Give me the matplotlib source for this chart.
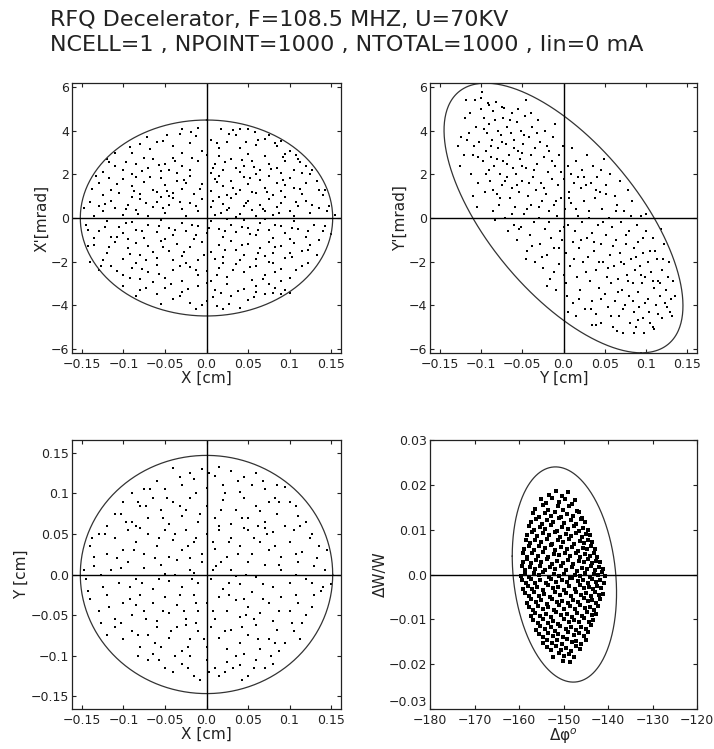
import numpy as np
import matplotlib
matplotlib.use("Agg")
import matplotlib.pyplot as plt

plt.rcParams['font.family'] = ['DejaVu Sans']

TITLE1 = "RFQ Decelerator, F=108.5 MHZ, U=70KV"
TITLE2 = "NCELL=1 , NPOINT=1000 , NTOTAL=1000 , Iin=0 mA"

# ---------------- panel 1: X - X' ----------------
p1_a = [(-0.029,4.1),(-0.019,3.95),(-0.01,4.15),(0.018,4.1),(0.032,4.05),(0.04,4.1),(0.05,4.1),(0.058,3.95),(0.036,3.8),(0.07,3.65),(0.09,3.55),(0.075,3.8),(-0.072,3.7),(-0.048,3.8),(-0.06,3.5),(-0.08,3.4),(-0.04,3.3),(-0.02,3.45),(-0.005,3.1),(0.015,3.2),(0.04,3.2),(0.06,3.35),(0.085,3.3),(0.1,3.1),(0.095,2.95),(0.05,2.95),(-0.11,3.0),(-0.09,3.0),(-0.03,3.0),(0.005,3.6),(0.025,3.5),(0.11,2.7),
(-0.12,2.7),(-0.11,2.4),(-0.125,2.1),(-0.1,2.2),(-0.085,2.5),(-0.07,2.3),(-0.065,2.7),(-0.05,2.5),(-0.04,2.75),(-0.03,2.4),(-0.02,2.2),(-0.01,2.6),(0.0,2.9),(0.01,2.5),(0.02,2.2),(0.03,2.7),(0.045,2.4),(0.055,2.6),(0.065,2.2),(0.075,2.5),(0.085,2.3),(0.095,2.6),(0.105,2.2),(0.12,2.4),(0.125,2.0),(0.115,2.05),(0.09,2.05),(0.06,2.0),(0.04,2.1),(0.005,2.05),(-0.035,2.05),(-0.055,2.15),(-0.09,2.0),(-0.075,2.75),(0.015,2.85),(0.07,2.85),(-0.045,2.2),(0.035,2.3),
(-0.13,1.6),(-0.115,1.3),(-0.1,1.8),(-0.09,1.45),(-0.08,1.1),(-0.075,1.65),(-0.065,1.3),(-0.055,1.85),(-0.05,1.5),(-0.04,1.15),(-0.035,1.7),(-0.03,1.35),(-0.02,1.95),(-0.015,1.1),(-0.005,1.55),(0.005,1.25),(0.01,1.8),(0.02,1.45),(0.025,1.05),(0.03,1.7),(0.04,1.3),(0.045,1.9),(0.05,1.55),(0.06,1.15),(0.065,1.75),(0.07,1.4),(0.08,1.05),(0.085,1.6),(0.09,1.25),(0.1,1.85),(0.105,1.4),(0.115,1.1),(0.12,1.6),(0.135,1.3),(0.14,1.05),(-0.125,1.05),(-0.105,1.15),(-0.045,1.0),(0.015,1.95),(0.055,1.2),(0.095,1.5),(-0.06,1.2),(0.035,1.1),(-0.025,1.6),(0.075,1.95),(-0.085,1.9),
(-0.14,0.75),(-0.13,0.55),(-0.125,0.3),(-0.115,0.8),(-0.11,0.45),(-0.1,0.15),(-0.095,0.6),(-0.085,0.35),(-0.08,0.85),(-0.07,0.1),(-0.065,0.5),(-0.06,0.75),(-0.05,0.25),(-0.045,0.6),(-0.04,0.9),(-0.03,0.4),(-0.025,0.1),(-0.02,0.7),(-0.01,0.3),(-0.005,0.85),(0.005,0.5),(0.01,0.15),(0.02,0.65),(0.025,0.35),(0.03,0.9),(0.04,0.2),(0.045,0.55),(0.05,0.8),(0.055,0.35),(0.06,0.1),(0.065,0.6),(0.07,0.3),(0.075,0.85),(0.08,0.15),(0.085,0.5),(0.09,0.7),(0.1,0.3),(0.105,0.1),(0.11,0.55),(0.12,0.8),(0.125,0.25),(0.135,0.45),(0.145,0.3),(0.155,0.15),(-0.135,0.1),(0.035,0.05),(-0.055,0.95),(0.015,0.95),(0.095,0.95),(-0.09,0.95),
(-0.145,-0.3),(-0.13,-0.6),(-0.12,-0.15),(-0.115,-0.85),(-0.105,-0.4),(-0.1,-0.7),(-0.09,-0.2),(-0.085,-0.55),(-0.075,-0.9),(-0.07,-0.3),(-0.06,-0.65),(-0.055,-0.1),(-0.045,-0.45),(-0.04,-0.8),(-0.03,-0.25),(-0.025,-0.6),(-0.015,-0.95),(-0.01,-0.35),(0.0,-0.7),(0.005,-0.15),(0.015,-0.5),(0.02,-0.85),(0.03,-0.3),(0.035,-0.65),(0.045,-0.1),(0.05,-0.45),(0.06,-0.8),(0.065,-0.25),(0.075,-0.55),(0.08,-0.9),(0.09,-0.35),(0.095,-0.7),(0.105,-0.15),(0.11,-0.5),(0.12,-0.85),(0.13,-0.3),(0.14,-0.6),(0.15,-0.75),(-0.135,-0.9),(0.025,-0.05),(-0.05,-0.95),(0.07,-0.05),(-0.095,-0.95),(0.1,-0.95),
(-0.135,-1.25),(-0.12,-1.6),(-0.11,-1.1),(-0.1,-1.9),(-0.095,-1.4),(-0.085,-1.15),(-0.08,-1.7),(-0.07,-1.3),(-0.06,-1.85),(-0.055,-1.05),(-0.045,-1.5),(-0.035,-1.2),(-0.03,-1.75),(-0.02,-1.35),(-0.01,-1.95),(-0.005,-1.1),(0.005,-1.55),(0.015,-1.25),(0.02,-1.8),(0.03,-1.05),(0.035,-1.45),(0.045,-1.7),(0.05,-1.2),(0.06,-1.9),(0.065,-1.4),(0.075,-1.1),(0.08,-1.6),(0.09,-1.3),(0.095,-1.85),(0.105,-1.15),(0.115,-1.5),(0.125,-1.25),(0.135,-1.0),(-0.125,-1.95),(0.1,-1.6),(-0.065,-1.55),(0.04,-1.95),(0.07,-1.75),(-0.04,-1.95),(0.01,-1.9),
(-0.14,-2.0),(-0.13,-2.4),(-0.115,-2.2),(-0.1,-2.6),(-0.09,-2.3),(-0.08,-2.8),(-0.07,-2.5),(-0.06,-2.15),(-0.05,-2.75),(-0.04,-2.4),(-0.03,-2.9),(-0.02,-2.25),(-0.01,-2.6),(0.0,-2.45),(0.005,-2.9),(0.015,-2.3),(0.025,-2.7),(0.035,-2.1),(0.045,-2.5),(0.055,-2.85),(0.06,-2.2),(0.07,-2.6),(0.08,-2.05),(0.09,-2.35),(0.1,-2.75),(0.115,-2.2),(0.075,-2.0),(-0.085,-2.05),(0.02,-2.05),(-0.025,-2.05),(0.09,-2.9),(-0.065,-2.95),
(-0.1,-3.1),(-0.08,-3.3),(-0.06,-3.5),(-0.05,-3.2),(-0.04,-3.7),(-0.03,-3.4),(-0.02,-3.9),(-0.01,-3.1),(0.0,-3.0),(0.0,-3.8),(0.01,-3.3),(0.02,-4.2),(0.03,-3.6),(0.04,-4.15),(0.045,-3.25),(0.05,-3.75),(0.06,-3.4),(0.07,-3.5),(0.08,-3.45),(0.09,-3.5),(0.095,-3.3),(0.075,-3.05),(-0.085,-3.6),(-0.005,-4.0),(0.025,-3.05),(-0.055,-3.95),(0.06,-3.1),(0.1,-3.45)]
p1_b = [(-0.0125,3.75),(0.0275,3.85),(0.0625,3.6),(-0.0525,3.55),(-0.0325,3.85),(0.0825,3.45),(-0.0925,3.25),(-0.0675,3.15),(0.0125,3.45),(0.0475,3.5),(0.1075,2.9),(-0.1175,2.55),
(-0.1325,1.95),(-0.0975,2.55),(-0.0575,2.45),(-0.0175,2.75),(0.0225,2.55),(0.0575,2.35),(0.0925,2.8),(0.1275,2.2),(-0.0775,2.15),(-0.0375,2.6),(0.0075,2.3),(0.0425,2.65),(0.0775,2.25),(0.1125,2.55),
(-0.1375,1.35),(-0.1075,1.55),(-0.0875,1.25),(-0.0675,1.9),(-0.0475,1.25),(-0.0275,1.75),(-0.0075,1.35),(0.0125,1.65),(0.0325,1.4),(0.0525,1.85),(0.0725,1.2),(0.0925,1.75),(0.1125,1.35),(0.1325,1.7),(0.1425,1.3),(-0.1175,1.85),
(-0.1475,0.45),(-0.1225,0.65),(-0.0975,0.4),(-0.0725,0.7),(-0.0525,0.45),(-0.0325,0.75),(-0.0125,0.55),(0.0075,0.8),(0.0275,0.45),(0.0475,0.7),(0.0675,0.4),(0.0875,0.25),(0.1075,0.75),(0.1275,0.6),(0.1475,0.55),(-0.0825,0.2),(0.0175,0.25),
(-0.1425,-0.55),(-0.1225,-0.4),(-0.0975,-0.25),(-0.0775,-0.6),(-0.0575,-0.35),(-0.0375,-0.55),(-0.0175,-0.3),(0.0025,-0.45),(0.0225,-0.6),(0.0425,-0.4),(0.0625,-0.55),(0.0825,-0.3),(0.1025,-0.45),(0.1225,-0.6),(0.1425,-0.35),(-0.0125,-0.8),(0.0525,-0.75),(-0.1075,-0.85),
(-0.1425,-1.3),(-0.1175,-1.35),(-0.0925,-1.65),(-0.0725,-1.95),(-0.0525,-1.35),(-0.0275,-1.55),(-0.0025,-1.7),(0.0225,-1.45),(0.0425,-1.25),(0.0625,-1.6),(0.0825,-1.35),(0.1025,-1.8),(0.1225,-1.45),(0.1325,-1.7),
(-0.1275,-2.2),(-0.1075,-2.45),(-0.0775,-2.35),(-0.0575,-2.55),(-0.0325,-2.2),(-0.0125,-2.4),(0.0125,-2.6),(0.0325,-2.4),(0.0525,-2.25),(0.0825,-2.5),(0.1075,-2.4),(0.1225,-2.05),(-0.0925,-2.75),(0.0675,-2.8),
(-0.0725,-3.2),(-0.0425,-3.05),(-0.0225,-3.25),(0.0175,-3.45),(0.0375,-3.35),(0.0575,-3.65),(0.0825,-3.2),(-0.0325,-3.6),(0.0075,-3.65),(0.0275,-3.95),(-0.0125,-4.2),(0.0125,-4.05)]

# ---------------- panel 2: Y - Y' ----------------
p2_a = [(-0.128,3.3),(-0.125,2.4),(-0.12,4.6),(-0.118,5.4),(-0.115,3.9),(-0.112,2.0),(-0.11,2.9),(-0.108,5.4),(-0.106,4.2),(-0.104,1.6),(-0.102,3.5),(-0.1,5.0),(-0.099,5.8),(-0.098,2.6),(-0.097,4.6),(-0.095,1.2),(-0.094,3.1),(-0.093,3.9),(-0.092,5.3),(-0.091,2.2),(-0.105,0.5),(-0.11,1.0),
(-0.09,4.3),(-0.089,1.7),(-0.088,2.8),(-0.087,3.6),(-0.086,0.3),(-0.085,4.9),(-0.084,2.4),(-0.083,-0.1),(-0.082,5.35),(-0.081,1.1),(-0.08,3.2),(-0.079,4.0),(-0.078,0.6),(-0.077,2.0),(-0.076,3.8),(-0.075,1.5),(-0.074,4.6),(-0.073,2.6),(-0.072,5.05),(-0.071,0.0),(-0.07,3.4),(-0.069,1.9),(-0.068,4.2),(-0.067,-0.6),(-0.066,2.9),(-0.065,0.9),(-0.064,3.9),(-0.063,1.4),(-0.062,4.8),(-0.061,2.3),(-0.06,-0.3),(-0.06,3.6),
(-0.059,0.5),(-0.058,2.0),(-0.057,4.4),(-0.056,-1.0),(-0.055,3.1),(-0.054,1.2),(-0.053,2.7),(-0.052,4.0),(-0.051,-0.4),(-0.05,1.7),(-0.049,3.4),(-0.048,0.2),(-0.047,4.7),(-0.046,5.4),(-0.045,2.3),(-0.044,-1.5),(-0.043,1.0),(-0.042,3.7),(-0.041,-0.8),(-0.04,2.9),(-0.039,0.6),(-0.038,4.2),(-0.037,1.9),(-0.036,-0.2),(-0.035,3.2),(-0.034,-2.0),(-0.033,1.3),(-0.032,2.5),(-0.031,4.5),(-0.03,0.0),(-0.045,-1.9),(-0.05,3.0),
(-0.029,-1.2),(-0.028,3.5),(-0.027,1.6),(-0.026,0.8),(-0.025,-2.3),(-0.024,2.8),(-0.023,-0.5),(-0.022,4.0),(-0.021,1.1),(-0.02,-1.7),(-0.019,2.1),(-0.018,0.3),(-0.017,3.1),(-0.016,-2.8),(-0.015,-0.9),(-0.014,1.8),(-0.013,3.7),(-0.012,0.6),(-0.011,-1.4),(-0.01,2.4),(-0.009,-3.3),(-0.008,0.1),(-0.007,1.5),(-0.006,-2.1),(-0.005,2.9),(-0.004,-0.6),(-0.003,0.9),(-0.002,-1.0),(-0.001,3.3),(0.0,-2.6),(-0.02,-3.1),(-0.01,4.3),
(0.001,1.8),(0.002,0.4),(0.003,-1.6),(0.004,-3.6),(0.005,2.4),(0.006,-0.3),(0.007,1.2),(0.008,-2.2),(0.009,0.7),(0.01,3.2),(0.011,-1.1),(0.012,-3.9),(0.013,1.6),(0.014,-0.6),(0.015,2.6),(0.016,-2.7),(0.017,0.1),(0.018,1.9),(0.019,-1.4),(0.02,-3.3),(0.021,1.4),(0.022,-0.2),(0.023,2.2),(0.024,-2.0),(0.025,0.8),(0.026,-4.2),(0.027,1.5),(0.028,-0.9),(0.029,2.9),(0.03,-1.8),(0.015,-4.5),(0.005,-4.3),
(0.031,0.3),(0.032,-2.9),(0.033,1.6),(0.034,-0.7),(0.035,-3.8),(0.036,2.4),(0.037,-1.5),(0.038,0.9),(0.039,-2.4),(0.04,-4.4),(0.041,1.9),(0.042,-0.3),(0.043,-3.2),(0.044,1.2),(0.045,-1.2),(0.046,-4.8),(0.047,0.4),(0.048,-2.0),(0.049,2.7),(0.05,-3.5),(0.051,-0.8),(0.052,1.5),(0.053,-2.7),(0.054,-4.1),(0.055,0.0),(0.056,-1.7),(0.057,2.0),(0.058,-3.0),(0.059,-0.4),(0.06,-5.0),(0.035,-4.9),(0.045,2.2),
(0.061,-2.2),(0.062,1.0),(0.063,-3.8),(0.064,-1.0),(0.065,0.6),(0.066,-2.8),(0.067,-4.5),(0.068,1.7),(0.069,-1.6),(0.07,-0.2),(0.071,-3.3),(0.072,-5.3),(0.073,-2.1),(0.074,0.3),(0.075,-4.0),(0.076,-1.2),(0.077,-2.6),(0.078,1.3),(0.079,-3.6),(0.08,-0.6),(0.081,-4.8),(0.082,-1.9),(0.083,0.8),(0.084,-3.0),(0.085,-4.3),(0.086,-1.4),(0.087,-2.4),(0.088,-5.0),(0.089,-0.3),(0.09,-3.4),
(0.091,-1.1),(0.092,-4.1),(0.093,-2.2),(0.094,0.1),(0.095,-3.0),(0.096,-4.6),(0.097,-1.6),(0.098,-5.3),(0.099,-2.7),(0.1,-0.6),(0.102,-3.7),(0.104,-4.3),(0.105,-1.5),(0.106,-2.5),(0.108,-5.0),(0.109,-0.9),(0.11,-3.2),(0.112,-4.0),(0.114,-1.9),(0.115,-2.9),(0.117,-3.6),(0.119,-4.6),(0.12,-2.4),(0.122,-1.2),(0.124,-3.3),(0.126,-4.1),(0.128,-2.0),(0.13,-3.7),(0.132,-4.5),(0.133,-2.9),(0.118,-0.5),(0.1,0.2)]
p2_b = [(-0.1165,3.6),(-0.1135,4.8),(-0.1085,3.3),(-0.1035,2.8),(-0.0965,4.1),(-0.0935,2.0),(-0.0885,3.3),(-0.0855,1.3),(-0.0835,4.5),(-0.0805,2.7),(-0.0775,0.9),(-0.0745,3.5),(-0.0715,1.7),(-0.0685,2.5),(-0.0655,4.5),(-0.0625,0.2),(-0.0595,3.2),(-0.0565,1.5),(-0.0535,-0.5),(-0.0505,2.4),(-0.0475,3.8),(-0.0445,0.4),(-0.0415,1.6),(-0.0385,-1.3),(-0.0355,2.2),(-0.0325,3.9),(-0.0295,0.5),(-0.0265,-1.8),(-0.0235,1.4),(-0.0205,3.3),(-0.0175,-0.2),(-0.0145,2.6),(-0.0115,-2.5),(-0.0085,0.8),(-0.0055,-1.4),(-0.0025,2.1),(0.0005,-0.4),(0.0035,-3.0),(0.0065,0.9),(0.0095,2.0),(0.0125,-1.9),(0.0155,0.4),(0.0185,-3.7),(0.0215,-1.0),(0.0245,1.9),(0.0275,-2.5),(0.0305,0.0),(0.0335,-4.2),(0.0365,-1.1),(0.0395,1.3),(0.0425,-2.0),(0.0455,-3.7),(0.0485,-0.2),(0.0515,1.1),(0.0545,-2.3),(0.0575,-4.5),(0.0605,-1.3),(0.0635,0.3),(0.0665,-3.4),(0.0695,-2.0),(0.0725,-4.2),(0.0755,-0.8),(0.0785,-2.9),(0.0815,0.1),(0.0845,-3.8),(0.0875,-1.8),(0.0905,-4.7),(0.0935,-2.6),(0.0965,-0.9),(0.0995,-3.9),(0.1025,-2.0),(0.1055,-4.8),(0.1085,-2.9),(0.1115,-1.5),(0.1145,-4.4),(0.1175,-3.0),(0.1205,-1.9),(0.1235,-3.9),(0.1265,-2.7),(0.1295,-4.3),(-0.124,3.7),(-0.121,2.9),(-0.1,5.5),(-0.09,5.2),(-0.075,5.1),(-0.055,5.0),(-0.04,4.8),(0.04,-4.9),(0.065,-5.2),(0.085,-5.3),(0.11,-5.1),(0.135,-3.6)]

# ---------------- panel 3: X - Y ----------------
p3_a = [(-0.04,0.132),(-0.02,0.125),(-0.005,0.13),(0.015,0.133),(0.03,0.128),(0.045,0.12),(0.06,0.125),(0.07,0.105),(0.085,0.11),(0.095,0.108),(-0.06,0.115),(-0.075,0.105),(-0.09,0.1),(-0.05,0.105),(-0.03,0.11),(0.0,0.107),(0.02,0.11),(0.04,0.102),(0.055,0.11),(-0.015,0.118),(0.01,0.122),
(-0.11,0.075),(-0.1,0.09),(-0.09,0.065),(-0.08,0.085),(-0.07,0.07),(-0.065,0.095),(-0.055,0.08),(-0.045,0.062),(-0.04,0.09),(-0.03,0.072),(-0.02,0.095),(-0.01,0.065),(0.0,0.085),(0.01,0.07),(0.02,0.092),(0.03,0.062),(0.035,0.08),(0.045,0.095),(0.05,0.07),(0.06,0.085),(0.07,0.065),(0.075,0.09),(0.085,0.075),(0.095,0.06),(0.1,0.09),(0.11,0.072),(0.12,0.065),(-0.12,0.06),(-0.025,0.08),(0.065,0.078),(-0.085,0.06),(0.015,0.06),
(-0.14,0.035),(-0.13,0.05),(-0.12,0.025),(-0.11,0.045),(-0.1,0.03),(-0.095,0.055),(-0.085,0.04),(-0.075,0.025),(-0.07,0.05),(-0.06,0.035),(-0.05,0.055),(-0.045,0.022),(-0.04,0.042),(-0.03,0.03),(-0.025,0.055),(-0.015,0.04),(-0.005,0.025),(0.0,0.05),(0.01,0.032),(0.015,0.055),(0.025,0.022),(0.03,0.045),(0.04,0.035),(0.05,0.055),(0.055,0.025),(0.065,0.04),(0.075,0.03),(0.08,0.052),(0.09,0.022),(0.1,0.04),(0.105,0.055),(0.115,0.028),(0.125,0.045),(0.135,0.035),(0.145,0.03),(-0.135,0.022),(0.07,0.058),(-0.08,0.058),(-0.02,0.02),(0.045,0.058),
(-0.145,-0.005),(-0.135,0.01),(-0.125,-0.015),(-0.115,0.005),(-0.105,-0.01),(-0.095,0.015),(-0.085,-0.005),(-0.075,0.008),(-0.065,-0.018),(-0.055,0.012),(-0.045,-0.008),(-0.035,0.018),(-0.03,-0.015),(-0.02,0.005),(-0.01,-0.01),(-0.005,0.015),(0.005,-0.005),(0.012,0.01),(0.02,-0.018),(0.03,0.006),(0.04,-0.012),(0.05,0.015),(0.06,-0.003),(0.07,0.012),(0.08,-0.015),(0.09,0.005),(0.1,-0.01),(0.11,0.015),(0.12,-0.005),(0.13,0.01),(0.14,-0.015),(0.15,-0.012),(-0.05,0.001),(0.035,-0.002),(-0.015,0.002),
(-0.14,-0.03),(-0.13,-0.045),(-0.12,-0.025),(-0.11,-0.055),(-0.1,-0.035),(-0.09,-0.05),(-0.08,-0.025),(-0.075,-0.045),(-0.065,-0.035),(-0.06,-0.058),(-0.05,-0.028),(-0.045,-0.048),(-0.035,-0.038),(-0.025,-0.055),(-0.015,-0.025),(-0.01,-0.045),(0.0,-0.035),(0.01,-0.055),(0.015,-0.028),(0.025,-0.045),(0.035,-0.032),(0.04,-0.052),(0.05,-0.04),(0.055,-0.022),(0.065,-0.048),(0.075,-0.035),(0.08,-0.058),(0.09,-0.028),(0.1,-0.045),(0.11,-0.035),(0.12,-0.05),(0.13,-0.025),(0.045,-0.03),(-0.085,-0.038),
(-0.12,-0.075),(-0.11,-0.065),(-0.1,-0.08),(-0.09,-0.07),(-0.08,-0.09),(-0.07,-0.075),(-0.06,-0.065),(-0.055,-0.09),(-0.045,-0.078),(-0.035,-0.065),(-0.03,-0.095),(-0.02,-0.08),(-0.01,-0.07),(0.0,-0.09),(0.005,-0.065),(0.015,-0.078),(0.025,-0.092),(0.03,-0.068),(0.04,-0.085),(0.05,-0.075),(0.06,-0.062),(0.065,-0.092),(0.075,-0.08),(0.085,-0.068),(0.095,-0.085),(0.105,-0.07),(0.115,-0.06),(-0.025,-0.062),(0.045,-0.098),(-0.065,-0.098),
(-0.07,-0.105),(-0.05,-0.115),(-0.04,-0.12),(-0.03,-0.11),(-0.015,-0.125),(0.0,-0.105),(0.01,-0.115),(0.015,-0.125),(0.025,-0.108),(0.04,-0.112),(0.05,-0.125),(0.06,-0.105),(0.07,-0.115),(0.08,-0.11),(-0.02,-0.1),(0.035,-0.1)]
p3_b = [(-0.0325,0.12),(0.0025,0.125),(0.0375,0.115),(0.0675,0.115),(-0.0675,0.105),(0.0825,0.095),(-0.0825,0.09),(-0.0475,0.095),(0.0225,0.1),(-0.0125,0.1),(0.1075,0.085),(-0.1025,0.075),
(-0.1225,0.05),(-0.0975,0.065),(-0.0725,0.085),(-0.0525,0.07),(-0.0325,0.085),(-0.0075,0.075),(0.0175,0.08),(0.0425,0.07),(0.0625,0.06),(0.0875,0.09),(0.1125,0.06),(0.1275,0.05),(-0.0575,0.045),(0.0275,0.04),
(-0.1375,0.045),(-0.1075,0.02),(-0.0875,0.03),(-0.0625,0.02),(-0.0375,0.05),(-0.0125,0.045),(0.0075,0.04),(0.0375,0.025),(0.0575,0.045),(0.0825,0.035),(0.1075,0.025),(0.1325,0.02),(-0.0225,0.035),(0.0725,0.05),
(-0.1475,0.005),(-0.1275,0.0),(-0.1025,0.008),(-0.0775,-0.01),(-0.0575,-0.005),(-0.0375,0.0),(-0.0175,-0.005),(0.0075,0.005),(0.0275,-0.01),(0.0475,0.0),(0.0675,-0.012),(0.0875,0.012),(0.1075,0.0),(0.1275,-0.01),(0.1425,0.005),(-0.0925,-0.015),(0.0175,0.015),
(-0.1425,-0.02),(-0.1175,-0.04),(-0.0925,-0.03),(-0.0725,-0.055),(-0.0525,-0.045),(-0.0325,-0.025),(-0.0125,-0.035),(0.0075,-0.045),(0.0275,-0.025),(0.0475,-0.05),(0.0675,-0.03),(0.0875,-0.045),(0.1075,-0.025),(0.1275,-0.04),(0.1375,-0.02),(-0.0275,-0.045),(0.0575,-0.055),
(-0.1275,-0.06),(-0.1025,-0.06),(-0.0825,-0.075),(-0.0625,-0.085),(-0.0425,-0.07),(-0.0225,-0.09),(-0.0025,-0.08),(0.0225,-0.07),(0.0425,-0.065),(0.0625,-0.08),(0.0825,-0.085),(0.1025,-0.06),(0.1125,-0.08),(-0.0125,-0.06),
(-0.0825,-0.1),(-0.0575,-0.105),(-0.0375,-0.1),(-0.0225,-0.115),(0.0025,-0.12),(0.0225,-0.12),(0.0325,-0.115),(0.0575,-0.115),(0.0775,-0.1),(0.0875,-0.095),(-0.0075,-0.13),(0.0425,-0.13)]

# ---------------- panel 4: dphi - dW/W ----------------
p4 = [(-153.2,0.0177),(-151.7,0.0186),(-150.4,0.0174),(-148.9,0.0183),
(-155.1,0.0168),(-153.9,0.0159),(-152.6,0.0171),(-150.9,0.0162),(-149.6,0.0169),(-148.2,0.0157),(-147.4,0.0166),
(-156.3,0.0147),(-154.7,0.0156),(-153.4,0.0143),(-151.2,0.0153),(-150.1,0.0144),(-148.7,0.0152),(-147.0,0.0141),
(-156.9,0.0138),(-155.6,0.0129),(-154.2,0.0137),(-152.9,0.0131),(-151.8,0.0140),(-150.6,0.0128),(-149.3,0.0136),(-147.9,0.0130),(-146.6,0.0139),(-145.8,0.0127),
(-157.4,0.0116),(-156.2,0.0124),(-154.9,0.0113),(-153.6,0.0122),(-152.3,0.0117),(-151.1,0.0125),(-149.8,0.0114),(-148.4,0.0121),(-147.3,0.0112),(-146.1,0.0123),(-145.2,0.0118),
(-157.8,0.0108),(-156.6,0.0099),(-155.3,0.0107),(-154.1,0.0101),(-152.7,0.0110),(-151.5,0.0098),(-150.3,0.0106),(-149.0,0.0102),(-147.7,0.0109),(-146.5,0.0097),(-145.6,0.0104),(-144.6,0.0100),
(-158.2,0.0087),(-157.0,0.0094),(-155.9,0.0085),(-154.5,0.0093),(-153.3,0.0088),(-152.0,0.0095),(-150.8,0.0083),(-149.5,0.0091),(-148.3,0.0086),(-147.1,0.0092),(-145.9,0.0084),(-144.9,0.0090),(-144.1,0.0087),
(-158.4,0.0078),(-157.5,0.0070),(-156.3,0.0077),(-155.0,0.0072),(-153.8,0.0080),(-152.5,0.0069),(-151.3,0.0076),(-150.1,0.0073),(-148.8,0.0079),(-147.6,0.0068),(-146.3,0.0075),(-145.3,0.0071),(-144.4,0.0078),(-143.5,0.0073),
(-158.8,0.0057),(-157.7,0.0064),(-156.6,0.0055),(-155.4,0.0063),(-154.1,0.0058),(-152.9,0.0065),(-151.8,0.0054),(-150.6,0.0061),(-149.2,0.0056),(-148.0,0.0062),(-146.8,0.0053),(-145.7,0.0060),(-144.7,0.0057),(-143.8,0.0064),(-142.9,0.0056),
(-159.0,0.0048),(-158.1,0.0040),(-157.0,0.0047),(-155.8,0.0042),(-154.6,0.0050),(-153.4,0.0039),(-152.2,0.0046),(-150.9,0.0043),(-149.7,0.0049),(-148.5,0.0041),(-147.3,0.0047),(-146.2,0.0038),(-145.1,0.0045),(-144.1,0.0042),(-143.2,0.0048),(-142.4,0.0040),
(-159.2,0.0027),(-158.3,0.0034),(-157.3,0.0025),(-156.1,0.0033),(-155.0,0.0028),(-153.7,0.0035),(-152.6,0.0024),(-151.4,0.0031),(-150.2,0.0026),(-148.9,0.0032),(-147.8,0.0023),(-146.6,0.0030),(-145.5,0.0027),(-144.4,0.0034),(-143.5,0.0025),(-142.6,0.0031),(-141.8,0.0028),
(-159.4,0.0018),(-158.6,0.0010),(-157.6,0.0017),(-156.5,0.0012),(-155.3,0.0020),(-154.2,0.0009),(-153.0,0.0016),(-151.8,0.0013),(-150.6,0.0019),(-149.4,0.0011),(-148.2,0.0017),(-147.0,0.0008),(-145.9,0.0015),(-144.8,0.0012),(-143.8,0.0018),(-142.9,0.0010),(-142.0,0.0016),(-141.2,0.0013),
(-159.5,-0.0003),(-158.7,0.0004),(-157.8,-0.0005),(-156.7,0.0003),(-155.6,-0.0002),(-154.5,0.0005),(-153.3,-0.0006),(-152.1,0.0001),(-151.0,-0.0004),(-149.8,0.0002),(-148.6,-0.0007),(-147.4,0.0000),(-146.2,-0.0003),(-145.1,0.0004),(-144.1,-0.0005),(-143.1,0.0001),(-142.2,-0.0002),(-141.4,0.0005),(-140.6,-0.0004),
(-159.3,-0.0012),(-158.5,-0.0019),(-157.4,-0.0011),(-156.3,-0.0018),(-155.2,-0.0013),(-154.0,-0.0020),(-152.8,-0.0009),(-151.6,-0.0016),(-150.4,-0.0012),(-149.2,-0.0017),(-148.0,-0.0008),(-146.8,-0.0015),(-145.7,-0.0013),(-144.6,-0.0019),(-143.6,-0.0010),(-142.7,-0.0016),(-141.8,-0.0012),(-141.0,-0.0018),
(-159.0,-0.0033),(-158.0,-0.0025),(-157.0,-0.0032),(-155.9,-0.0027),(-154.7,-0.0035),(-153.5,-0.0024),(-152.4,-0.0031),(-151.2,-0.0028),(-150.0,-0.0034),(-148.7,-0.0026),(-147.5,-0.0032),(-146.4,-0.0023),(-145.3,-0.0030),(-144.2,-0.0027),(-143.3,-0.0033),(-142.4,-0.0025),(-141.5,-0.0031),
(-158.6,-0.0042),(-157.7,-0.0049),(-156.6,-0.0040),(-155.4,-0.0048),(-154.3,-0.0043),(-153.1,-0.0050),(-151.9,-0.0039),(-150.7,-0.0046),(-149.5,-0.0041),(-148.3,-0.0047),(-147.1,-0.0038),(-146.0,-0.0045),(-144.9,-0.0042),(-143.9,-0.0049),(-142.9,-0.0040),(-142.0,-0.0046),(-141.2,-0.0043),
(-158.2,-0.0063),(-157.2,-0.0055),(-156.1,-0.0062),(-155.0,-0.0057),(-153.8,-0.0065),(-152.6,-0.0054),(-151.4,-0.0061),(-150.3,-0.0058),(-149.0,-0.0064),(-147.8,-0.0056),(-146.7,-0.0062),(-145.5,-0.0053),(-144.5,-0.0060),(-143.5,-0.0057),(-142.6,-0.0063),(-141.7,-0.0055),
(-157.8,-0.0072),(-156.8,-0.0079),(-155.7,-0.0070),(-154.5,-0.0078),(-153.4,-0.0073),(-152.1,-0.0080),(-151.0,-0.0069),(-149.8,-0.0076),(-148.6,-0.0071),(-147.4,-0.0077),(-146.2,-0.0068),(-145.1,-0.0075),(-144.1,-0.0072),(-143.2,-0.0079),(-142.3,-0.0070),
(-157.3,-0.0093),(-156.3,-0.0085),(-155.2,-0.0092),(-154.0,-0.0087),(-152.9,-0.0095),(-151.7,-0.0084),(-150.5,-0.0091),(-149.3,-0.0088),(-148.1,-0.0094),(-146.9,-0.0086),(-145.8,-0.0092),(-144.7,-0.0083),(-143.7,-0.0090),(-142.8,-0.0087),
(-156.8,-0.0102),(-155.8,-0.0109),(-154.7,-0.0100),(-153.5,-0.0108),(-152.4,-0.0103),(-151.2,-0.0110),(-150.0,-0.0099),(-148.8,-0.0106),(-147.6,-0.0101),(-146.5,-0.0107),(-145.3,-0.0098),(-144.3,-0.0105),(-143.3,-0.0102),
(-156.2,-0.0123),(-155.2,-0.0115),(-154.1,-0.0122),(-152.9,-0.0117),(-151.8,-0.0125),(-150.7,-0.0114),(-149.5,-0.0121),(-148.3,-0.0118),(-147.1,-0.0124),(-146.0,-0.0116),(-144.9,-0.0122),(-143.9,-0.0113),
(-155.5,-0.0132),(-154.5,-0.0139),(-153.4,-0.0130),(-152.3,-0.0138),(-151.2,-0.0133),(-150.1,-0.0140),(-148.9,-0.0129),(-147.7,-0.0136),(-146.6,-0.0131),(-145.5,-0.0137),(-144.5,-0.0128),
(-154.6,-0.0153),(-153.6,-0.0145),(-152.6,-0.0152),(-151.5,-0.0147),(-150.4,-0.0155),(-149.3,-0.0144),(-148.2,-0.0151),(-147.1,-0.0148),(-146.0,-0.0154),(-145.0,-0.0146),
(-153.7,-0.0162),(-152.7,-0.0169),(-151.7,-0.0160),(-150.6,-0.0168),(-149.5,-0.0163),(-148.4,-0.0170),(-147.3,-0.0159),(-146.3,-0.0166),
(-152.3,-0.0183),(-151.0,-0.0176),(-149.8,-0.0182),(-148.7,-0.0177),(-147.6,-0.0185),
(-150.2,-0.0192),(-148.5,-0.0195)]

# ellipse quadratic-form parameters: A*dx^2 + 2*B*dx*dy + C*dy^2 = 1
ell1 = dict(cx=0.0, cy=0.0, A=1/0.152**2, B=0.0, C=1/4.5**2)
ell2 = dict(cx=0.0, cy=0.0, A=82.6, B=1.259, C=0.04527)
ell3 = dict(cx=0.0, cy=0.0, A=1/0.152**2, B=0.0, C=1/0.147**2)
ell4 = dict(cx=-149.8, cy=0.0, A=0.0075, B=0.625, C=1788.0)

xticks_cm = [-0.15, -0.1, -0.05, 0.0, 0.05, 0.1, 0.15]
xticklabels_cm = ['\u22120.15', '\u22120.1', '\u22120.05', '0.0', '0.05', '0.1', '0.15']
yticks_mrad = [-6, -4, -2, 0, 2, 4, 6]
yticklabels_mrad = ['\u22126', '\u22124', '\u22122', '0', '2', '4', '6']
yticks_cm = [-0.15, -0.1, -0.05, 0.0, 0.05, 0.1, 0.15]
yticklabels_cm = xticklabels_cm
xticks_phi = [-180, -170, -160, -150, -140, -130, -120]
xticklabels_phi = ['\u2212180', '\u2212170', '\u2212160', '\u2212150', '\u2212140', '\u2212130', '\u2212120']
yticks_w = [-0.03, -0.02, -0.01, 0.0, 0.01, 0.02, 0.03]
yticklabels_w = ['\u22120.03', '\u22120.02', '\u22120.01', '0.0', '0.01', '0.02', '0.03']


def ellipse_curve(e, n=400):
    M = np.array([[e['A'], e['B']], [e['B'], e['C']]])
    w, V = np.linalg.eigh(M)
    t = np.linspace(0, 2 * np.pi, n)
    u = np.vstack([np.cos(t) / np.sqrt(w[0]), np.sin(t) / np.sqrt(w[1])])
    xy = V @ u
    return xy[0] + e['cx'], xy[1] + e['cy']


fig = plt.figure(figsize=(7.14, 7.49), dpi=100)
fig.text(0.070, 1 - 20 / 749, TITLE1, fontsize=16, va='center', ha='left', color='#222222')
fig.text(0.070, 1 - 45 / 749, TITLE2, fontsize=16, va='center', ha='left', color='#222222')

axes_pos = [
    [72 / 714, 1 - 353 / 749, 269 / 714, 270 / 749],
    [430 / 714, 1 - 353 / 749, 267 / 714, 270 / 749],
    [72 / 714, 1 - 709 / 749, 269 / 714, 269 / 749],
    [430 / 714, 1 - 709 / 749, 267 / 714, 269 / 749],
]

panels = [
    dict(pts=p1_a + p1_b, ell=ell1, xlim=(-0.162, 0.162), ylim=(-6.2, 6.2), xt=xticks_cm, xtl=xticklabels_cm,
         yt=yticks_mrad, ytl=yticklabels_mrad, xl='X [cm]', yl="X'[mrad]", vline=True, ms=1.8),
    dict(pts=p2_a + p2_b, ell=ell2, xlim=(-0.162, 0.162), ylim=(-6.2, 6.2), xt=xticks_cm, xtl=xticklabels_cm,
         yt=yticks_mrad, ytl=yticklabels_mrad, xl='Y [cm]', yl="Y'[mrad]", vline=True, ms=1.8),
    dict(pts=p3_a + p3_b, ell=ell3, xlim=(-0.162, 0.162), ylim=(-0.166, 0.166), xt=xticks_cm, xtl=xticklabels_cm,
         yt=yticks_cm, ytl=yticklabels_cm, xl='X [cm]', yl='Y [cm]', vline=True, ms=1.8),
    dict(pts=p4, ell=ell4, xlim=(-180, -120), ylim=(-0.03, 0.03), xt=xticks_phi, xtl=xticklabels_phi,
         yt=yticks_w, ytl=yticklabels_w, xl='\u0394\u03c6$^{o}$', yl='\u0394W/W', vline=False, ms=2.4),
]

for i, (pos, p) in enumerate(zip(axes_pos, panels)):
    ax = fig.add_axes(pos)
    px = [a for a, b in p['pts']]
    py = [b for a, b in p['pts']]
    ax.plot(px, py, linestyle='none', marker='s', markersize=p['ms'], markeredgewidth=0, color='black')
    ex, ey = ellipse_curve(p['ell'])
    ax.plot(ex, ey, color='#333333', lw=0.9, clip_on=True)
    ax.axhline(0, color='black', lw=1.0)
    if p['vline']:
        ax.axvline(0, color='black', lw=1.0)
    ax.set_xlim(*p['xlim'])
    ax.set_ylim(*p['ylim'])
    ax.set_xticks(p['xt'])
    ax.set_xticklabels(p['xtl'])
    ax.set_yticks(p['yt'])
    ax.set_yticklabels(p['ytl'])
    ax.tick_params(direction='in', length=3, width=0.8, labelsize=9, pad=2,
                   top=True, right=True, colors='#222222')
    ax.tick_params(axis='x', pad=3.5)
    ax.set_xlabel(p['xl'], fontsize=11, labelpad=0, color='#222222')
    ax.set_ylabel(p['yl'], fontsize=11, labelpad=1, color='#222222')
    if i == 3:
        ax.get_yticklabels()[0].set_va('bottom')
    for s in ax.spines.values():
        s.set_linewidth(0.9)
        s.set_color('#222222')

fig.savefig('out.png', dpi=100)
